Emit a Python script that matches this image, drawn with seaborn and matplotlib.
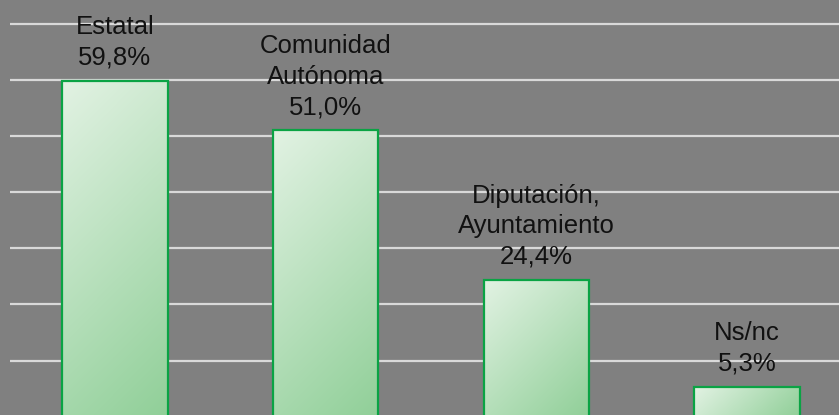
import numpy as np
import matplotlib
matplotlib.use("Agg")
import matplotlib.pyplot as plt
from matplotlib.colors import LinearSegmentedColormap
import seaborn as sns

categories = ["Estatal", "Comunidad\nAutónoma", "Diputación,\nAyuntamiento", "Ns/nc"]
values = [59.8, 51.0, 24.4, 5.3]
grid_ticks = [10, 20, 30, 40, 50, 60, 70]

bg = "#808080"
edge = "#0aa344"
grad = LinearSegmentedColormap.from_list("g", ["#e2f2e3", "#90cf98"])

sns.set_theme(style="white")
plt.rcParams["font.family"] = ["Liberation Sans", "DejaVu Sans"]

fig = plt.figure(figsize=(8.39, 4.15), dpi=100, facecolor=bg)
ax = fig.add_axes([9.5 / 839, 0, 843 / 839, 1])
ax.set_facecolor(bg)

sns.barplot(x=categories, y=values, ax=ax, width=0.5, color="white")
ax.set_xlim(-0.5, 3.5)
ax.set_ylim(0.32, 74.23)
ax.set_yticks(grid_ticks)
ax.yaxis.grid(True, color="#d9d9d9", linewidth=1.6, zorder=0)
ax.set_axisbelow(True)
ax.tick_params(left=False, bottom=False, labelleft=False, labelbottom=False)
ax.set_xlabel("")
ax.set_ylabel("")
for s in ax.spines.values():
    s.set_visible(False)

fig.canvas.draw()
for p, name, v in zip(ax.patches, categories, values):
    x0, y0 = p.get_x(), p.get_y()
    w, h = p.get_width(), p.get_height()
    # gradient at 45 degrees in pixel space, light top-left -> green bottom-right
    (px0, py0), (px1, py1) = ax.transData.transform([(x0, y0), (x0 + w, y0 + h)])
    wpx, hpx = abs(px1 - px0), abs(py1 - py0)
    nx, ny = max(int(wpx), 2), max(int(hpx), 2)
    uu, vv = np.meshgrid(np.linspace(0, wpx, nx), np.linspace(0, hpx, ny))
    t = (uu + vv) / (wpx + hpx)
    im = ax.imshow(t, cmap=grad, vmin=0, vmax=1, extent=[x0, x0 + w, y0, y0 + h],
                   origin="upper", aspect="auto", zorder=2, interpolation="bilinear")
    im.set_clip_path(p)
    p.set_facecolor("none")
    p.set_edgecolor(edge)
    p.set_linewidth(1.6)
    p.set_zorder(3)
    label = f"{name}\n{v:.1f}%".replace(".", ",")
    ax.annotate(label, (x0 + w / 2, y0 + h), xytext=(0, 8), textcoords="offset points",
                ha="center", va="bottom", multialignment="center",
                fontsize=18.5, color="#111111", linespacing=1.34, zorder=4)

ax.set_xlim(-0.5, 3.5)
ax.set_ylim(0.32, 74.23)
fig.savefig("out.png", dpi=100, facecolor=bg)
